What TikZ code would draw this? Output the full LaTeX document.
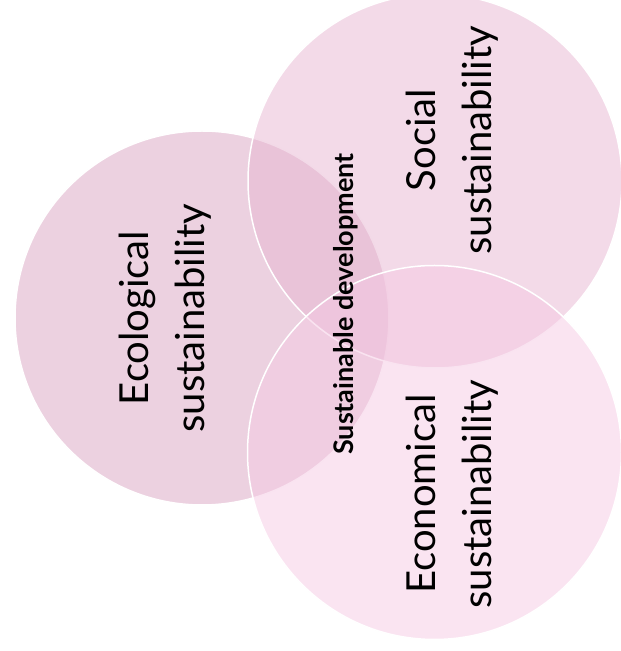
\documentclass[tikz,border=0pt]{standalone}
\usepackage{fontspec}
\setmainfont{Lato}
\usetikzlibrary{positioning}
\definecolor{ecopink}{RGB}{217,163,193}
\definecolor{socpink}{RGB}{231,181,209}
\definecolor{econpink}{RGB}{245,201,227}

\begin{document}
\begin{tikzpicture}[x=1pt,y=1pt,
  bubble/.style={circle, draw=white, line width=1.5pt, fill opacity=0.5,
    minimum size=374pt, inner sep=0pt},
  pillar/.style={rotate=90, align=center, font=\fontsize{40}{56}\selectfont}]
  \useasboundingbox (0,0) rectangle (621,651);

  % The three circles
  \node[bubble, fill=ecopink] (eco) at (202,333) {};
  \node[bubble, fill=socpink] (soc) at (435,470) {};
  \node[bubble, fill=econpink] (econ) at (434.5,198.5) {};

  % Labels
  \node[pillar] (ecolabel) at (165,333) {Ecological\\sustainability};
  \node[pillar] (soclabel) at (452,511) {Social\\sustainability};
  \node[pillar] (econlabel) at (452,157) {Economical\\sustainability};

  % Core
  \node[rotate=90, font=\fontsize{27}{30}\selectfont\bfseries] (core) at (346,347)
    {Sustainable development};
\end{tikzpicture}
\end{document}
